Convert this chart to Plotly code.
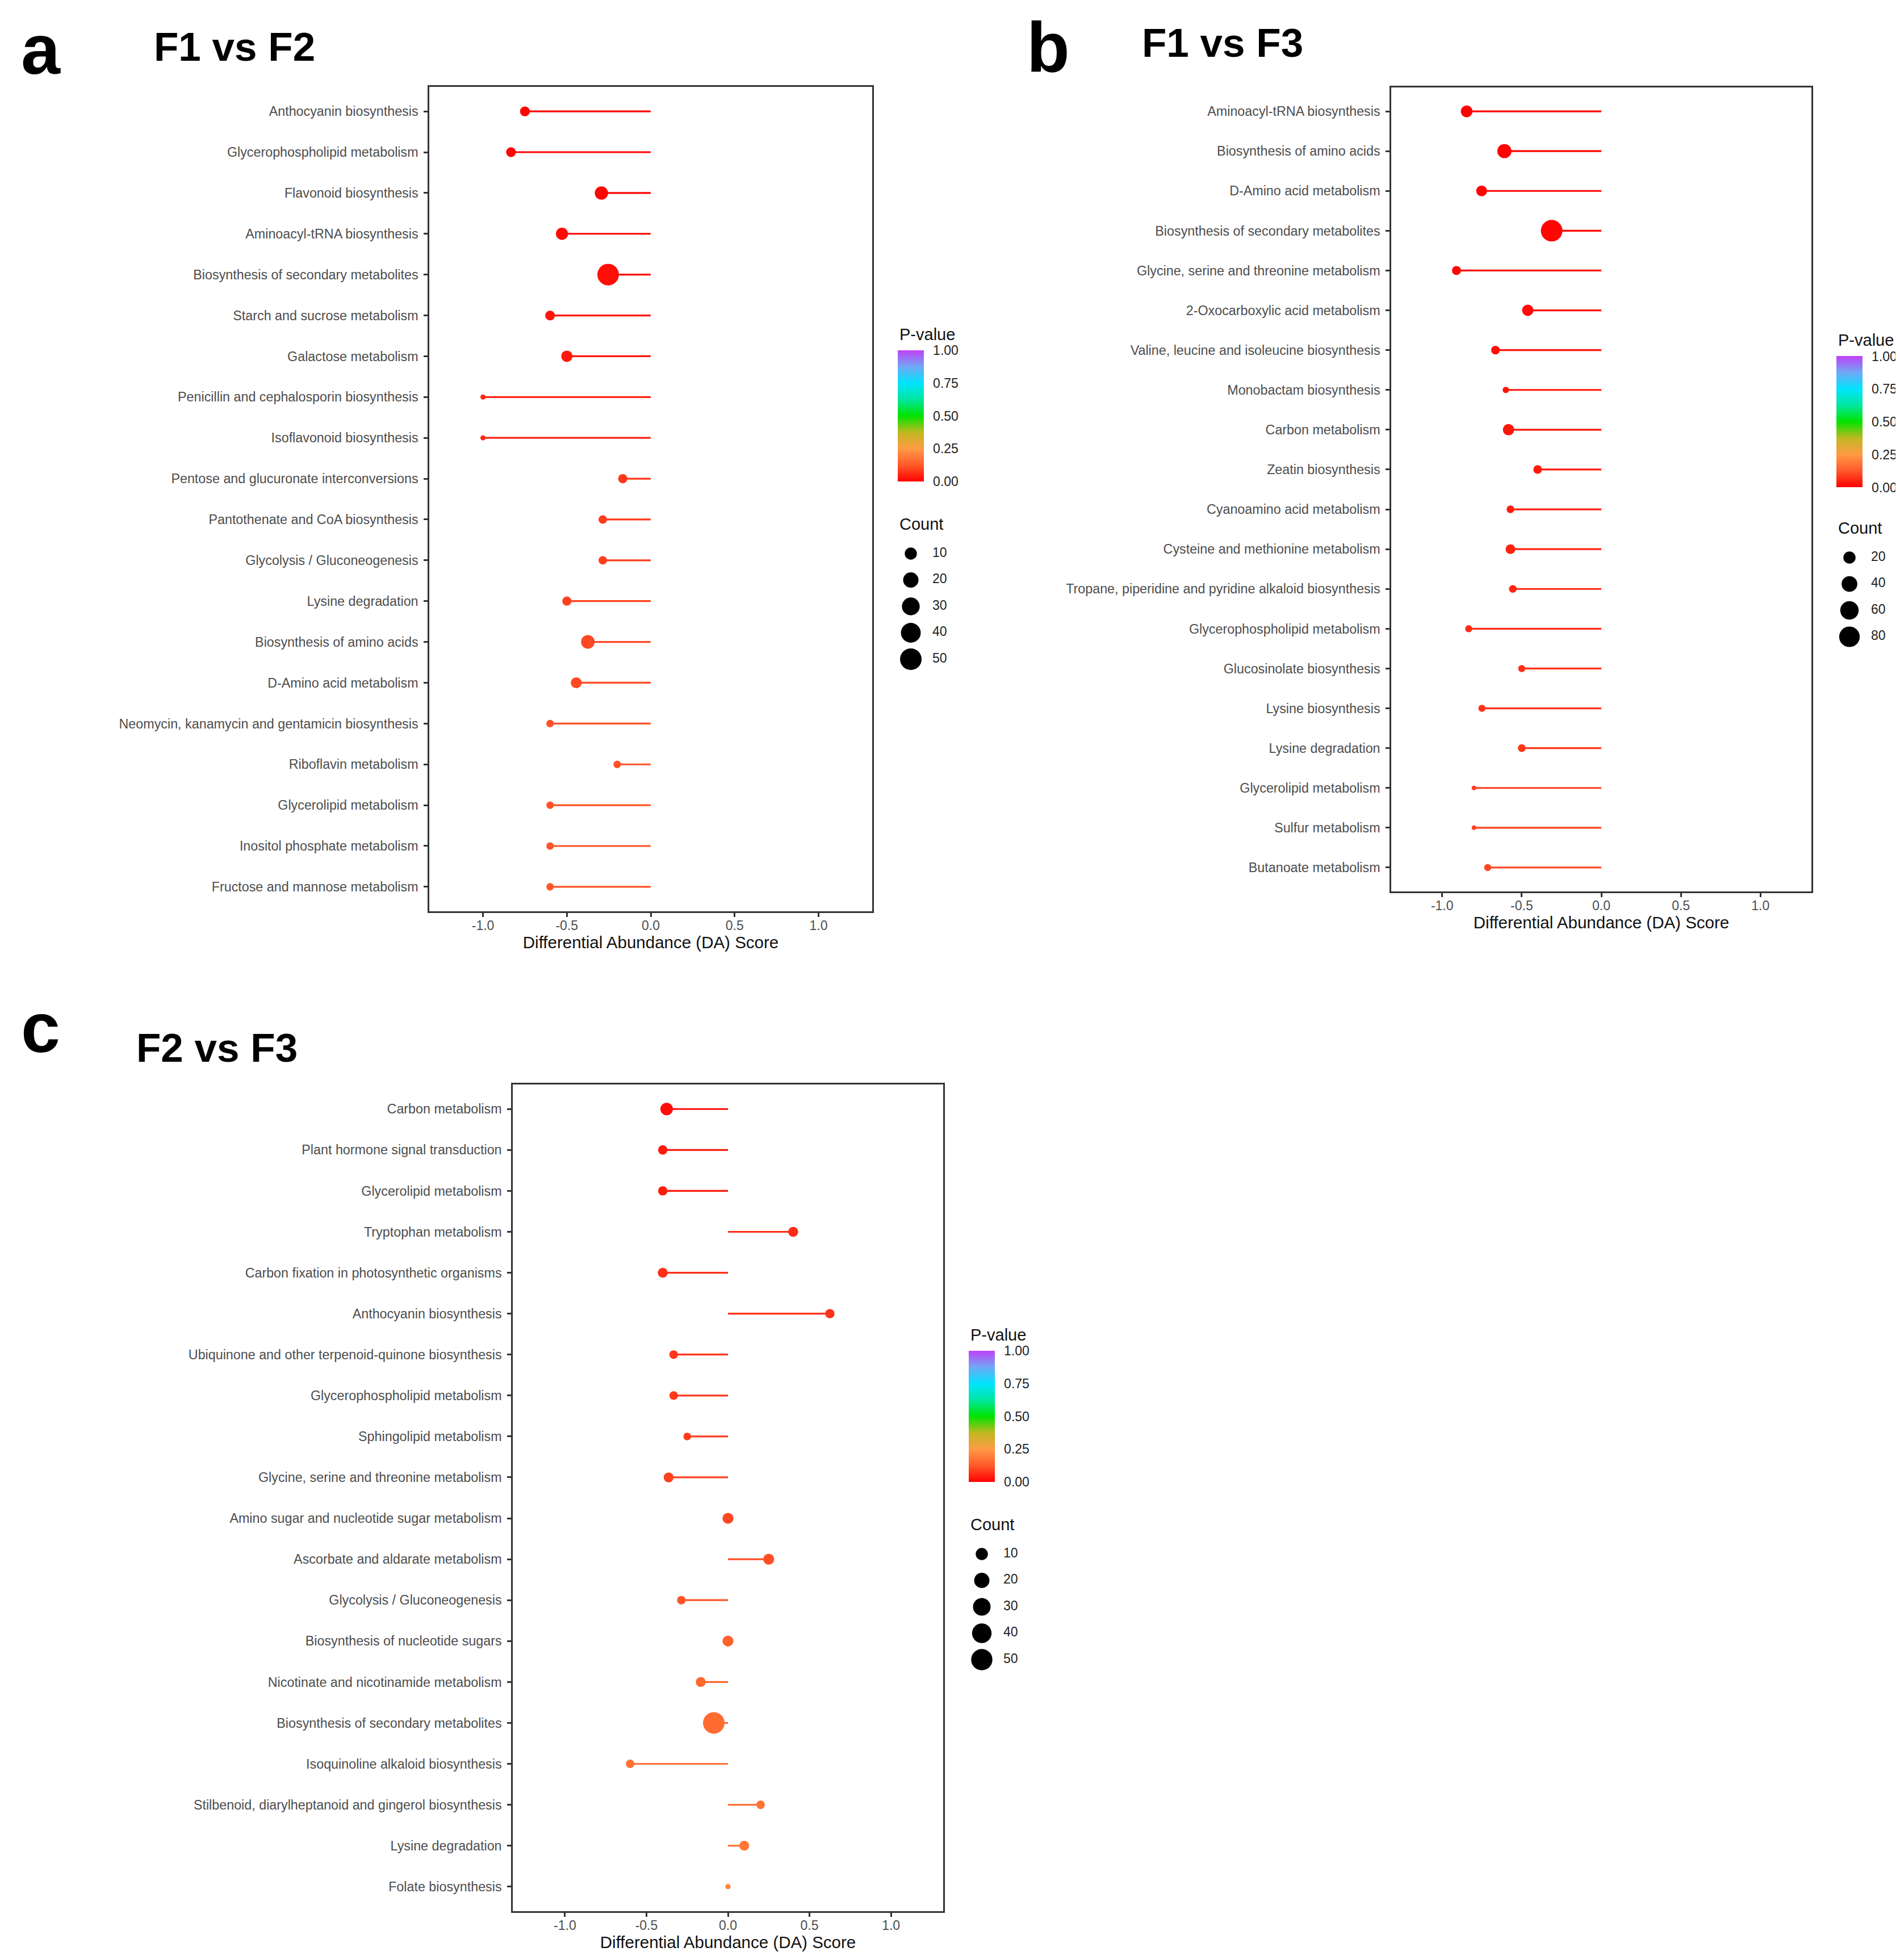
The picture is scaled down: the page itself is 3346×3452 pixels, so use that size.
import plotly.graph_objects as go

W, H = 3346, 3452
FONT = "Liberation Sans"

# ---------------- data ----------------
names_a = ["Anthocyanin biosynthesis", "Glycerophospholipid metabolism", "Flavonoid biosynthesis",
           "Aminoacyl-tRNA biosynthesis", "Biosynthesis of secondary metabolites",
           "Starch and sucrose metabolism", "Galactose metabolism",
           "Penicillin and cephalosporin biosynthesis", "Isoflavonoid biosynthesis",
           "Pentose and glucuronate interconversions", "Pantothenate and CoA biosynthesis",
           "Glycolysis / Gluconeogenesis", "Lysine degradation", "Biosynthesis of amino acids",
           "D-Amino acid metabolism", "Neomycin, kanamycin and gentamicin biosynthesis",
           "Riboflavin metabolism", "Glycerolipid metabolism", "Inositol phosphate metabolism",
           "Fructose and mannose metabolism"]
da_a = [-0.75, -0.833, -0.294, -0.529, -0.254, -0.6, -0.5, -1.0, -1.0, -0.167,
        -0.286, -0.286, -0.5, -0.375, -0.444, -0.6, -0.2, -0.6, -0.6, -0.6]
count_a = [5, 5, 13, 10, 50, 5, 8, 1, 1, 4, 3, 3, 4, 14, 7, 2, 2, 2, 2, 2]
p_a = [0.004, 0.006, 0.008, 0.012, 0.02, 0.03, 0.035, 0.05, 0.05, 0.075,
       0.08, 0.085, 0.09, 0.1, 0.1, 0.11, 0.11, 0.115, 0.115, 0.12]

names_b = ["Aminoacyl-tRNA biosynthesis", "Biosynthesis of amino acids", "D-Amino acid metabolism",
           "Biosynthesis of secondary metabolites", "Glycine, serine and threonine metabolism",
           "2-Oxocarboxylic acid metabolism", "Valine, leucine and isoleucine biosynthesis",
           "Monobactam biosynthesis", "Carbon metabolism", "Zeatin biosynthesis",
           "Cyanoamino acid metabolism", "Cysteine and methionine metabolism",
           "Tropane, piperidine and pyridine alkaloid biosynthesis", "Glycerophospholipid metabolism",
           "Glucosinolate biosynthesis", "Lysine biosynthesis", "Lysine degradation",
           "Glycerolipid metabolism", "Sulfur metabolism", "Butanoate metabolism"]
da_b = [-0.846, -0.609, -0.752, -0.312, -0.91, -0.462, -0.665, -0.6, -0.583, -0.4,
        -0.571, -0.571, -0.556, -0.833, -0.5, -0.75, -0.5, -0.8, -0.8, -0.714]
count_b = [18, 30, 14, 90, 8, 16, 7, 3, 16, 7, 5, 10, 5, 4, 4, 4, 5, 2, 2, 4]
p_b = [0.002, 0.004, 0.006, 0.008, 0.01, 0.015, 0.02, 0.025, 0.03, 0.035,
       0.04, 0.045, 0.05, 0.06, 0.065, 0.07, 0.075, 0.085, 0.09, 0.1]

names_c = ["Carbon metabolism", "Plant hormone signal transduction", "Glycerolipid metabolism",
           "Tryptophan metabolism", "Carbon fixation in photosynthetic organisms",
           "Anthocyanin biosynthesis", "Ubiquinone and other terpenoid-quinone biosynthesis",
           "Glycerophospholipid metabolism", "Sphingolipid metabolism",
           "Glycine, serine and threonine metabolism", "Amino sugar and nucleotide sugar metabolism",
           "Ascorbate and aldarate metabolism", "Glycolysis / Gluconeogenesis",
           "Biosynthesis of nucleotide sugars", "Nicotinate and nicotinamide metabolism",
           "Biosynthesis of secondary metabolites", "Isoquinoline alkaloid biosynthesis",
           "Stilbenoid, diarylheptanoid and gingerol biosynthesis", "Lysine degradation",
           "Folate biosynthesis"]
da_c = [-0.376, -0.4, -0.4, 0.4, -0.4, 0.625, -0.333, -0.333, -0.25, -0.364,
        0.0, 0.25, -0.286, 0.0, -0.167, -0.087, -0.6, 0.2, 0.1, 0.0]
count_c = [11, 4, 4, 5, 5, 4, 3, 3, 2, 5, 7, 7, 3, 7, 5, 52, 3, 3, 5, 1]
p_c = [0.02, 0.035, 0.04, 0.06, 0.065, 0.07, 0.075, 0.08, 0.085, 0.09,
       0.1, 0.11, 0.12, 0.14, 0.15, 0.16, 0.17, 0.175, 0.18, 0.21]

count_breaks_a = [10, 20, 30, 40, 50]
count_breaks_b = [20, 40, 60, 80]
count_breaks_c = [10, 20, 30, 40, 50]
p_ticks = [0, 0.25, 0.5, 0.75, 1.0]
p_ticktext = ["0.00", "0.25", "0.50", "0.75", "1.00"]
x_ticks = [-1.0, -0.5, 0.0, 0.5, 1.0]
x_ticktext = ["-1.0", "-0.5", "0.0", "0.5", "1.0"]

# ---------------- styles ----------------
CS = [[0.0, "#FF0000"], [0.125, "#FF5A2A"], [0.25, "#FF9A45"], [0.375, "#C0B820"],
      [0.5, "#00E400"], [0.625, "#00E6A0"], [0.75, "#00E5FF"], [0.875, "#70A8F5"],
      [1.0, "#C040F5"]]


def hex2rgb(h):
    h = h.lstrip("#")
    return tuple(int(h[i:i + 2], 16) for i in (0, 2, 4))


def cs_color(p):
    for (p0, c0), (p1, c1) in zip(CS[:-1], CS[1:]):
        if p <= p1:
            t = 0 if p1 == p0 else (p - p0) / (p1 - p0)
            a, b = hex2rgb(c0), hex2rgb(c1)
            r = [round(a[i] + (b[i] - a[i]) * t) for i in range(3)]
            return "rgb(%d,%d,%d)" % tuple(r)
    return CS[-1][1]


def diam(c, cmin, cmax, dmin, dmax):
    return dmin + (dmax - dmin) * ((c - cmin) / (cmax - cmin)) ** 0.5


def fx(px):
    return min(max(px / W, 0), 1)


def fy(px):
    return min(max(1 - px / H, 0), 1)


fig = go.Figure()

panels = [
    dict(names=names_a, da=da_a, cnt=count_a, p=p_a, breaks=count_breaks_a,
         ax="", box=(748, 1528, 145, 1597), dmin=9, dmax=38,
         cb_left=1573, cb_mid=724.5, leg_ax="4", leg_y0=967),
    dict(names=names_b, da=da_b, cnt=count_b, p=p_b, breaks=count_breaks_b,
         ax="2", box=(2442, 3182, 146, 1562), dmin=8, dmax=38,
         cb_left=3226, cb_mid=735, leg_ax="5", leg_y0=974),
    dict(names=names_c, da=da_c, cnt=count_c, p=p_c, breaks=count_breaks_c,
         ax="3", box=(895, 1653, 1902, 3358), dmin=9.5, dmax=38,
         cb_left=1698, cb_mid=2486.5, leg_ax="6", leg_y0=2729),
]

layout_axes = {}
annotations = []
LEG_STEP = 46.5

for pn in panels:
    xa = "x" + pn["ax"]
    ya = "y" + pn["ax"]
    cmin, cmax = min(pn["cnt"]), max(pn["cnt"])
    sizes = [diam(c, cmin, cmax, pn["dmin"], pn["dmax"]) for c in pn["cnt"]]
    # segments
    for name, d, p in zip(pn["names"], pn["da"], pn["p"]):
        fig.add_trace(go.Scatter(x=[0, d], y=[name, name], mode="lines",
                                 line=dict(color=cs_color(p), width=3.2),
                                 xaxis=xa, yaxis=ya, hoverinfo="skip", showlegend=False))
    # points
    fig.add_trace(go.Scatter(
        x=pn["da"], y=pn["names"], mode="markers", xaxis=xa, yaxis=ya, showlegend=False,
        marker=dict(size=sizes, color=pn["p"], colorscale=CS, cmin=0, cmax=1,
                    line=dict(width=0), opacity=1,
                    colorbar=dict(x=fx(pn["cb_left"]), xanchor="left", xpad=0, ypad=0,
                                  y=fy(pn["cb_mid"]), yanchor="middle",
                                  len=231, lenmode="pixels", thickness=46,
                                  thicknessmode="pixels", outlinewidth=0,
                                  tickvals=p_ticks, ticktext=p_ticktext,
                                  ticks="outside", ticklen=12, tickwidth=1,
                                  tickcolor="rgba(0,0,0,0)",
                                  tickfont=dict(family=FONT, size=23, color="#222222")))))
    x0, x1, y0, y1 = pn["box"]
    key = pn["ax"]
    layout_axes["xaxis" + key] = dict(
        domain=[fx(x0), fx(x1)], anchor=ya, range=[-1.32, 1.32],
        tickvals=x_ticks, ticktext=x_ticktext, ticks="outside", ticklen=7, tickwidth=2.5,
        tickcolor="#333333", showline=True, mirror=True, linecolor="#333333", linewidth=2.5,
        showgrid=False, zeroline=False, ticklabelstandoff=-4,
        tickfont=dict(family=FONT, size=23, color="#4D4D4D"),
        title=dict(text="Differential Abundance (DA) Score", standoff=5,
                   font=dict(family=FONT, size=29.5, color="#111111")))
    layout_axes["yaxis" + key] = dict(
        domain=[fy(y1), fy(y0)], anchor=xa, type="category",
        categoryorder="array", categoryarray=pn["names"], range=[19.6, -0.6],
        ticks="outside", ticklen=7, tickwidth=2.5, tickcolor="#333333",
        showline=True, mirror=True, linecolor="#333333", linewidth=2.5,
        showgrid=False, zeroline=False, ticklabelstandoff=5,
        tickfont=dict(family=FONT, size=23.3, color="#4D4D4D"))

    # Count legend on a hidden axis
    lx = "x" + pn["leg_ax"]
    ly = "y" + pn["leg_ax"]
    cx = pn["cb_left"] + 23
    n = len(pn["breaks"])
    idx = list(range(n))
    bsizes = [diam(b, cmin, cmax, pn["dmin"], pn["dmax"]) for b in pn["breaks"]]
    fig.add_trace(go.Scatter(x=[0] * n, y=idx, mode="markers", xaxis=lx, yaxis=ly,
                             marker=dict(size=bsizes, color="#000000", opacity=1,
                                         line=dict(width=0)),
                             cliponaxis=False, hoverinfo="skip", showlegend=False))
    fig.add_trace(go.Scatter(x=[38] * n, y=idx, mode="text", xaxis=lx, yaxis=ly,
                             text=[str(b) for b in pn["breaks"]], textposition="middle right",
                             textfont=dict(family=FONT, size=23, color="#222222"),
                             cliponaxis=False, hoverinfo="skip", showlegend=False))
    top = pn["leg_y0"] - 0.6 * LEG_STEP
    bot = pn["leg_y0"] + (n - 1 + 0.6) * LEG_STEP
    layout_axes["xaxis" + pn["leg_ax"]] = dict(domain=[fx(cx - 56), fx(cx + 66)], anchor=ly,
                                               range=[-56, 66], visible=False)
    layout_axes["yaxis" + pn["leg_ax"]] = dict(domain=[fy(bot), fy(top)], anchor=lx,
                                               range=[n - 1 + 0.6, -0.6], visible=False)

    # legend titles
    annotations.append(dict(text="P-value", x=fx(pn["cb_left"] + 1), y=fy(pn["cb_mid"] - 143.5),
                            xref="paper", yref="paper", xanchor="left", yanchor="middle",
                            showarrow=False, font=dict(family=FONT, size=29, color="#111111")))
    annotations.append(dict(text="Count", x=fx(pn["cb_left"] + 1), y=fy(pn["leg_y0"] - 52),
                            xref="paper", yref="paper", xanchor="left", yanchor="middle",
                            showarrow=False, font=dict(family=FONT, size=29, color="#111111")))

# panel letters and titles
for txt, x, y, size in [("a", 64, 79, 124), ("b", 1838, 75, 124), ("c", 63, 1802, 124),
                        ("F1 vs F2", 405, 75, 71), ("F1 vs F3", 2145, 68, 71),
                        ("F2 vs F3", 374, 1838, 71)]:
    annotations.append(dict(text=txt, x=fx(x), y=fy(y), xref="paper", yref="paper",
                            xanchor="center", yanchor="middle", showarrow=False,
                            font=dict(family=FONT, size=size, color="black", weight="bold")))

fig.update_layout(width=W, height=H, margin=dict(l=0, r=0, t=0, b=0),
                  paper_bgcolor="white", plot_bgcolor="white", showlegend=False,
                  annotations=annotations, **layout_axes)

fig.write_html("out.html")
